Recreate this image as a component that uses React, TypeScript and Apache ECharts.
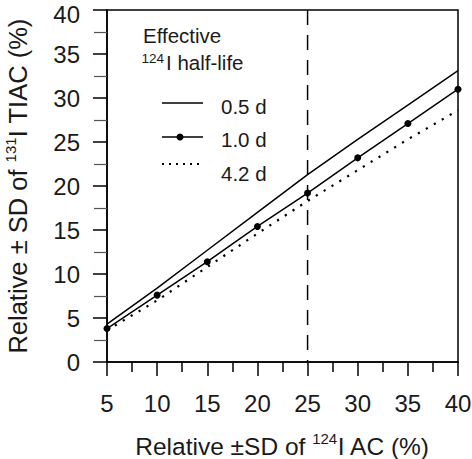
import React, { useEffect, useRef } from "react";
import * as echarts from "echarts";

const xValues = [5, 10, 15, 20, 25, 30, 35, 40];
const halfLife05 = [4.3, 8.4, 12.7, 17.0, 21.3, 25.3, 29.2, 33.1];
const halfLife10 = [3.8, 7.6, 11.4, 15.4, 19.2, 23.2, 27.1, 31.0];
const halfLife42 = [3.6, 7.0, 10.8, 14.6, 18.3, 21.8, 25.3, 28.6];
const seriesNames = ["0.5 d", "1.0 d", "4.2 d"];
const refX = 25;
const yRange = [0, 40];

const FONT = "'Liberation Sans', Arial, sans-serif";
const TXT = "#1a1a1a";

function pairs(vals: number[]) {
  return xValues.map((x, i) => [x, vals[i]]);
}

export default function App() {
  const ref = useRef<HTMLDivElement>(null);
  useEffect(() => {
    document.body.style.margin = "0";
    if (!ref.current) return;
    const chart = echarts.init(ref.current, undefined, { renderer: "svg" });
    const sup = { fontSize: 15, fontFamily: FONT, color: TXT, verticalAlign: "top", lineHeight: 22 };
    chart.setOption({
      animation: false,
      backgroundColor: "#fff",
      grid: {
        left: 107,
        top: 10,
        right: 14,
        bottom: 97,
        show: true,
        borderColor: "#000",
        borderWidth: 1.5,
        backgroundColor: "transparent",
        outerBoundsMode: "none",
      },
      xAxis: {
        type: "value",
        min: 5,
        max: 40,
        interval: 5,
        name: "Relative ±SD of {sup|124}I AC (%)",
        nameLocation: "middle",
        nameGap: 69,
        nameTextStyle: { fontSize: 24.5, fontFamily: FONT, color: TXT, lineHeight: 30, rich: { sup } },
        axisLine: { show: true, lineStyle: { color: "#000", width: 1.5 } },
        axisTick: { show: true, inside: false, length: 14, lineStyle: { color: "#000", width: 1.5 } },
        minorTick: { show: true, splitNumber: 2, length: 10, lineStyle: { color: "#000", width: 1.5 } },
        axisLabel: { fontSize: 24, fontFamily: FONT, color: TXT, margin: 31, lineHeight: 20 },
        splitLine: { show: false },
      },
      yAxis: {
        type: "value",
        min: yRange[0],
        max: yRange[1],
        interval: 5,
        name: "Relative ± SD of {sup|131}I TIAC (%)",
        nameLocation: "middle",
        nameRotate: 90,
        nameGap: 74,
        nameTextStyle: { fontSize: 25.5, fontFamily: FONT, color: TXT, lineHeight: 30, rich: { sup } },
        axisLine: { show: true, lineStyle: { color: "#000", width: 1.5 } },
        axisTick: { show: true, inside: false, length: 14, lineStyle: { color: "#000", width: 1.5 } },
        minorTick: { show: true, splitNumber: 2, length: 13, lineStyle: { color: "#555", width: 1.2 } },
        axisLabel: {
          fontSize: 24,
          fontFamily: FONT,
          color: TXT,
          margin: 27,
          lineHeight: 18,
          formatter: (v: number) => (v === yRange[1] ? "{top|" + v + "}" : String(v)),
          rich: { top: { fontSize: 24, fontFamily: FONT, color: TXT, lineHeight: 18, padding: [8, 0, 0, 0] } },
        },
        splitLine: { show: false },
      },
      series: [
        {
          name: seriesNames[0],
          type: "line",
          data: pairs(halfLife05),
          symbol: "none",
          lineStyle: { color: "#000", width: 1.5 },
        },
        {
          name: seriesNames[1],
          type: "line",
          data: pairs(halfLife10),
          symbol: "circle",
          symbolSize: 7,
          itemStyle: { color: "#000" },
          lineStyle: { color: "#000", width: 1.5 },
        },
        {
          name: seriesNames[2],
          type: "line",
          data: pairs(halfLife42),
          symbol: "none",
          lineStyle: { color: "#000", width: 2.2, type: [2.2, 7] },
        },
        {
          name: "ref",
          type: "line",
          data: [
            [refX, yRange[1]],
            [refX, yRange[0]],
          ],
          symbol: "none",
          lineStyle: { color: "#000", width: 1.5, type: [15, 10] },
        },
      ],
      graphic: [
        { type: "text", style: { text: "Effective", x: 143, y: 35, fontSize: 20.5, fontFamily: FONT, fill: TXT, verticalAlign: "middle" } },
        { type: "text", style: { text: "124", x: 141.5, y: 58.5, fontSize: 13.5, fontFamily: FONT, fill: TXT, verticalAlign: "middle" } },
        { type: "text", style: { text: "I half-life", x: 166, y: 62.5, fontSize: 20.5, fontFamily: FONT, fill: TXT, verticalAlign: "middle" } },
        { type: "line", shape: { x1: 162, y1: 103, x2: 203, y2: 103 }, style: { stroke: "#000", lineWidth: 1.5 } },
        { type: "line", shape: { x1: 162, y1: 137, x2: 203, y2: 137 }, style: { stroke: "#000", lineWidth: 1.5 } },
        { type: "circle", shape: { cx: 180, cy: 137, r: 3.5 }, style: { fill: "#000" } },
        { type: "line", shape: { x1: 162, y1: 164, x2: 203, y2: 164 }, style: { stroke: "#000", lineWidth: 2, lineDash: [2, 5] } },
        { type: "text", style: { text: seriesNames[0], x: 221, y: 106, fontSize: 20.5, fontFamily: FONT, fill: TXT, verticalAlign: "middle" } },
        { type: "text", style: { text: seriesNames[1], x: 221, y: 139.5, fontSize: 20.5, fontFamily: FONT, fill: TXT, verticalAlign: "middle" } },
        { type: "text", style: { text: seriesNames[2], x: 221, y: 173.5, fontSize: 20.5, fontFamily: FONT, fill: TXT, verticalAlign: "middle" } },
      ],
    });
    return () => chart.dispose();
  }, []);
  return <div ref={ref} style={{ width: 472, height: 459 }} />;
}
